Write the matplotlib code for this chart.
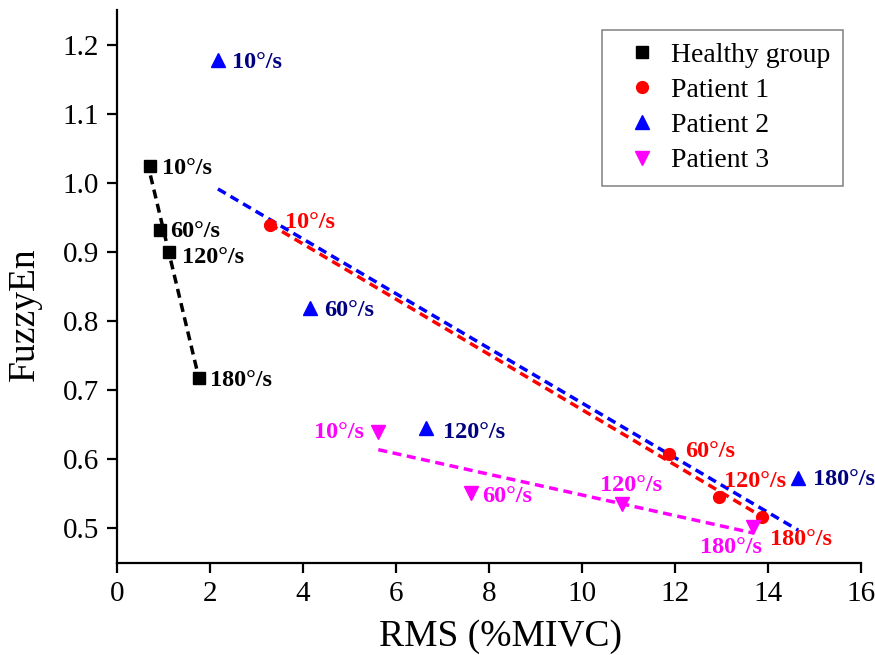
import numpy as np
import matplotlib
matplotlib.use("Agg")
import matplotlib.pyplot as plt

plt.rcParams['font.family'] = ['Liberation Serif', 'DejaVu Serif']

speeds = ["10°/s", "60°/s", "120°/s", "180°/s"]

healthy_x = [0.72, 0.93, 1.12, 1.77]
healthy_y = [1.025, 0.932, 0.900, 0.718]
p1_x = [3.28, 11.88, 12.95, 13.87]
p1_y = [0.939, 0.608, 0.545, 0.516]
p2_x = [2.17, 4.16, 6.65, 14.65]
p2_y = [1.178, 0.819, 0.645, 0.573]
p3_x = [5.62, 7.62, 10.85, 13.68]
p3_y = [0.639, 0.551, 0.535, 0.502]

fig = plt.figure(figsize=(8.75, 6.55), dpi=100)
ax = fig.add_axes([0.1337, 0.1405, 0.984 - 0.1337, 0.9847 - 0.1405])

def fit_line(x, y, color):
    x = np.asarray(x); y = np.asarray(y)
    k, b = np.polyfit(x, y, 1)
    xs = np.array([x.min(), x.max()])
    ax.plot(xs, k * xs + b, linestyle=(0, (2.6, 1.6)), color=color, lw=2.5, zorder=2)

fit_line(healthy_x, healthy_y, 'black')
fit_line(p1_x, p1_y, '#ff0000')
fit_line(p2_x, p2_y, '#0000ff')
fit_line(p3_x, p3_y, '#ff00ff')

ax.plot(healthy_x, healthy_y, 's', color='black', ms=8, ls='none', label='Healthy group', zorder=3)
ax.plot(p1_x, p1_y, 'o', color='#ff0000', ms=8.5, ls='none', label='Patient 1', zorder=3)
ax.plot(p2_x, p2_y, '^', color='#0000ff', ms=9.5, ls='none', label='Patient 2', zorder=3)
ax.plot(p3_x, p3_y, 'v', color='#ff00ff', ms=9.5, ls='none', label='Patient 3', zorder=3)

afs = 17.5
def lab(x, y, txt, color, dx, dy, ha='left'):
    ax.annotate(txt, (x, y), xytext=(dx, -dy), textcoords='offset pixels',
                ha=ha, va='center', color=color, fontsize=afs, fontweight='bold', zorder=4)

h_off = [(12, 3), (10, 2), (13, 6), (11, 3)]
for (x, y, t, (dx, dy)) in zip(healthy_x, healthy_y, speeds, h_off):
    lab(x, y, t, 'black', dx, dy)

p1_off = [(15, -2, 'left'), (16, -2, 'left'), (5, -16, 'left'), (8, 22, 'left')]
for (x, y, t, (dx, dy, ha)) in zip(p1_x, p1_y, speeds, p1_off):
    lab(x, y, t, '#ff0000', dx, dy, ha)

p2_off = [(14, 3), (14, 3), (17, 4), (15, 2)]
for (x, y, t, (dx, dy)) in zip(p2_x, p2_y, speeds, p2_off):
    lab(x, y, t, '#000080', dx, dy)

p3_off = [(-14, 0, 'right'), (11, 3, 'left'), (10, -19, 'center'), (-22, 20, 'center')]
for (x, y, t, (dx, dy, ha)) in zip(p3_x, p3_y, speeds, p3_off):
    lab(x, y, t, '#ff00ff', dx, dy, ha)

ax.set_xlim(0, 16)
ax.set_ylim(0.45, 1.25)
ax.set_xticks(np.arange(0, 17, 2))
ax.set_yticks([0.5, 0.6, 0.7, 0.8, 0.9, 1.0, 1.1, 1.2])
ax.set_yticklabels(['0.5', '0.6', '0.7', '0.8', '0.9', '1.0', '1.1', '1.2'])
for s in ['top', 'right']:
    ax.spines[s].set_visible(False)
for s in ['left', 'bottom']:
    ax.spines[s].set_linewidth(1.6)
ax.tick_params(direction='out', length=7, width=1.6, labelsize=21, pad=6)

ax.set_xlabel('RMS (%MIVC)', fontsize=27, labelpad=9)
ax.xaxis.label.set_x(0.516)
ax.set_ylabel('FuzzyEn', fontsize=27, labelpad=15)
ax.yaxis.label.set_y(0.45)

leg = ax.legend(loc='upper right', bbox_to_anchor=(0.976, 0.964), borderaxespad=0,
                fontsize=20, frameon=True, fancybox=False, edgecolor='#606060',
                handletextpad=0.05, borderpad=0.45, labelspacing=0.35, handlelength=2.0)
leg.get_frame().set_linewidth(1.1)

fig.savefig('out.png', dpi=100)
